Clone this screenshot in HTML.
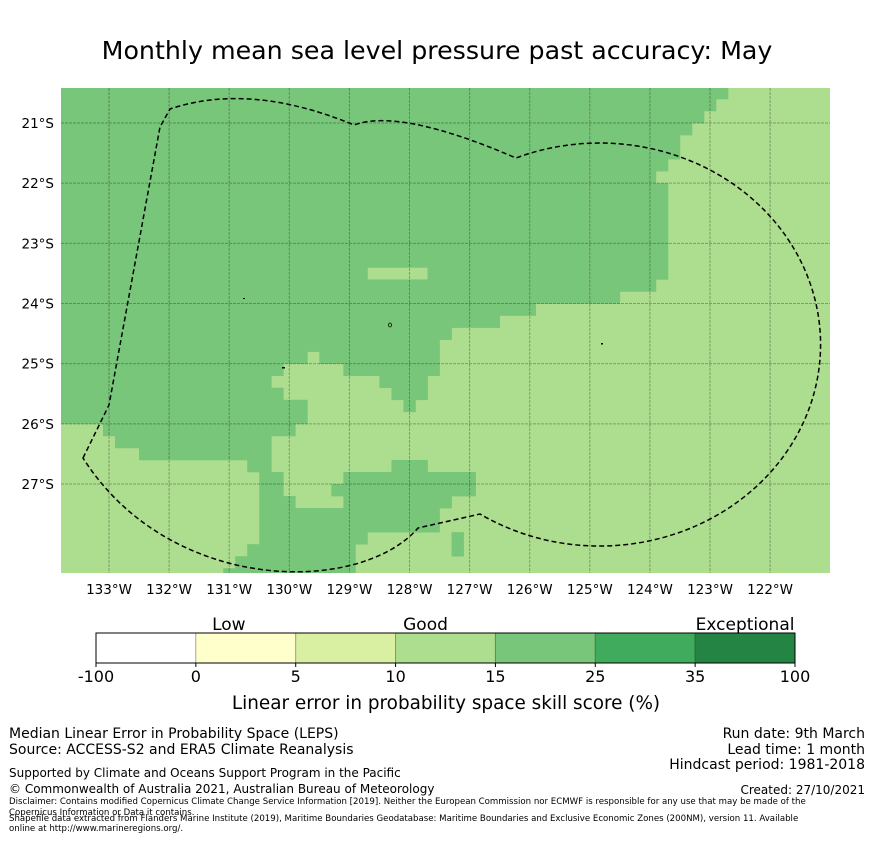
<!DOCTYPE html>
<html><head><meta charset="utf-8"><style>
body{margin:0;background:#fff;}
svg text{font-family:"DejaVu Sans","Liberation Sans",sans-serif;}
</style></head><body>
<svg id="chart" width="873" height="839" viewBox="0 0 873 839" xmlns="http://www.w3.org/2000/svg">
<rect width="873" height="839" fill="#fff"/>
<text x="437" y="59" font-size="25.3" text-anchor="middle">Monthly mean sea level pressure past accuracy: May</text>
<defs><clipPath id="mapclip"><rect x="61" y="88" width="769" height="485"/></clipPath></defs>
<g id="map" clip-path="url(#mapclip)">
<rect x="61" y="88" width="769" height="485" fill="#addd8e"/>
<g id="cells"></g>
<g id="grat"></g>
<path d="M83,458 L109,405 L160,127 L170,109 Q250,82 354,125 Q400,108 516,158 A221,201.5 0 1 1 480,514 L418,528 C360,595 170,595 83,458 Z" fill="none" stroke="#000" stroke-width="1.5" stroke-dasharray="5,3"/>
<rect x="243" y="298" width="2" height="1" fill="#000"/>
<ellipse cx="390" cy="325" rx="1.5" ry="2" fill="none" stroke="#000" stroke-width="0.8"/>
<rect x="282" y="367" width="3" height="1.5" fill="#000"/>
<rect x="601" y="343" width="2" height="1.5" fill="#000"/>
</g>
<g id="axes"></g>
<g id="cbar"></g>
<text x="446" y="709" font-size="18.4" text-anchor="middle">Linear error in probability space skill score (%)</text>
<g font-size="14">
<text x="9" y="738">Median Linear Error in Probability Space (LEPS)</text>
<text x="9" y="754">Source: ACCESS-S2 and ERA5 Climate Reanalysis</text>
<text x="9" y="777" font-size="12">Supported by Climate and Oceans Support Program in the Pacific</text>
<text x="9" y="793" font-size="12">© Commonwealth of Australia 2021, Australian Bureau of Meteorology</text>
<text x="9" y="804" font-size="8.6">Disclaimer: Contains modified Copernicus Climate Change Service Information [2019]. Neither the European Commission nor ECMWF is responsible for any use that may be made of the</text>
<text x="9" y="815" font-size="8.6">Copernicus Information or Data it contains.</text>
<text x="9" y="821" font-size="8.6">Shapefile data extracted from Flanders Marine Institute (2019), Maritime Boundaries Geodatabase: Maritime Boundaries and Exclusive Economic Zones (200NM), version 11. Available</text>
<text x="9" y="831" font-size="8.6">online at http://www.marineregions.org/.</text>
</g>
<g font-size="14" text-anchor="end">
<text x="865" y="738">Run date: 9th March</text>
<text x="865" y="754">Lead time: 1 month</text>
<text x="865" y="769">Hindcast period: 1981-2018</text>
<text x="865" y="794" font-size="12">Created: 27/10/2021</text>
</g>
</svg>
<script>
// grid rows (0.2° cells from top); runs of "15-25" class cells as [startCol, endCol)
const darkRuns = [
 [[0,56]],[[0,55]],[[0,54]],[[0,53]],[[0,52]],[[0,52]],[[0,51]],[[0,50]],
 [[0,51]],[[0,51]],[[0,51]],[[0,51]],[[0,51]],[[0,51]],[[0,51]],
 [[0,26],[31,51]],[[0,50]],[[0,47]],[[0,40]],[[0,37]],[[0,33]],[[0,32]],
 [[0,21],[22,32]],[[0,19],[24,32]],[[0,18],[27,31]],[[0,19],[28,31]],[[0,21],[29,30]],[[0,21]],
 [[4,20]],[[5,18]],[[7,18]],[[16,18],[28,31]],[[17,19],[24,35]],[[17,19],[23,35]],[[17,20],[24,33]],
 [[17,32]],[[17,32]],[[17,26],[33,34]],[[16,25],[33,34]],[[15,25]],[[14,25]]
];
const lonTicks = [133,132,131,130,129,128,127,126,125,124,123,122];
const latTicks = [21,22,23,24,25,26,27];
const cbarBounds = ["-100","0","5","10","15","25","35","100"];
const cbarColors = ["#ffffff","#ffffcc","#d9f0a3","#addd8e","#78c679","#41ab5d","#238443"];
const cbarCategories = ["Low","Good","Exceptional"];
const cbarCategoryPos = [1.33,3.3,6.5];

const NS='http://www.w3.org/2000/svg';
function mk(tag, attrs, parent){const e=document.createElementNS(NS,tag);for(const k in attrs)e.setAttribute(k,attrs[k]);parent.appendChild(e);return e;}
const pxDeg = 60.1;
const xLon = lonW => 109 + (133 - lonW)*pxDeg;
const yLat = latS => 123 + (latS - 21)*60.17;
const cellW = 0.2*pxDeg, cellH = 0.2*60.17;
const colX = c => xLon(133.9) + c*cellW;
const rowY = r => yLat(20.4) + r*cellH;

const cells = document.getElementById('cells');
darkRuns.forEach((runs, r) => {
  runs.forEach(run => {
    const el = mk('rect',{x:colX(run[0]),y:rowY(r),width:(run[1]-run[0])*cellW+0.3,height:cellH+0.3,fill:'#78c679'},cells);
    
    
  });
});

const grat = document.getElementById('grat');
const axes = document.getElementById('axes');
lonTicks.forEach(l => {
  const x = xLon(l);
  const ln = mk('line',{x1:x,x2:x,y1:88,y2:573,stroke:'rgba(0,0,0,0.28)','stroke-width':1,'stroke-dasharray':'3,1'},grat);
  
  
  const t = mk('text',{x:x,y:594,'font-size':13.5,'text-anchor':'middle'},axes);
  t.textContent = l + '°W';
  
  
});
latTicks.forEach(l => {
  const y = yLat(l);
  const ln = mk('line',{x1:61,x2:830,y1:y,y2:y,stroke:'rgba(0,0,0,0.28)','stroke-width':1,'stroke-dasharray':'3,1'},grat);
  
  
  const t = mk('text',{x:54,y:y+5,'font-size':13.5,'text-anchor':'end'},axes);
  t.textContent = l + '°S';
  
  
});

const cb = document.getElementById('cbar');
const cbX0 = 96, cbW = 699, cbY = 633, cbH = 30, segW = cbW/cbarColors.length;
cbarColors.forEach((c,i) => {
  const r = mk('rect',{x:cbX0+i*segW,y:cbY,width:segW,height:cbH,fill:c,stroke:'rgba(0,0,0,0.25)','stroke-width':1},cb);
  
  
});
const border = mk('rect',{x:cbX0,y:cbY,width:cbW,height:cbH,fill:'none',stroke:'#000','stroke-width':1},cb);


cbarBounds.forEach((b,i) => {
  const x = cbX0 + i*segW;
  const tk = mk('line',{x1:x,x2:x,y1:cbY+cbH,y2:cbY+cbH+4,stroke:'#000'},cb);
  
  
  const t = mk('text',{x:x,y:682,'font-size':16,'text-anchor':'middle'},cb);
  t.textContent = b;
  
  
});
cbarCategories.forEach((c,i) => {
  const t = mk('text',{x:cbX0+cbarCategoryPos[i]*segW,y:630,'font-size':17,'text-anchor':'middle'},cb);
  t.textContent = c;
  
  
});
</script>
</body></html>
